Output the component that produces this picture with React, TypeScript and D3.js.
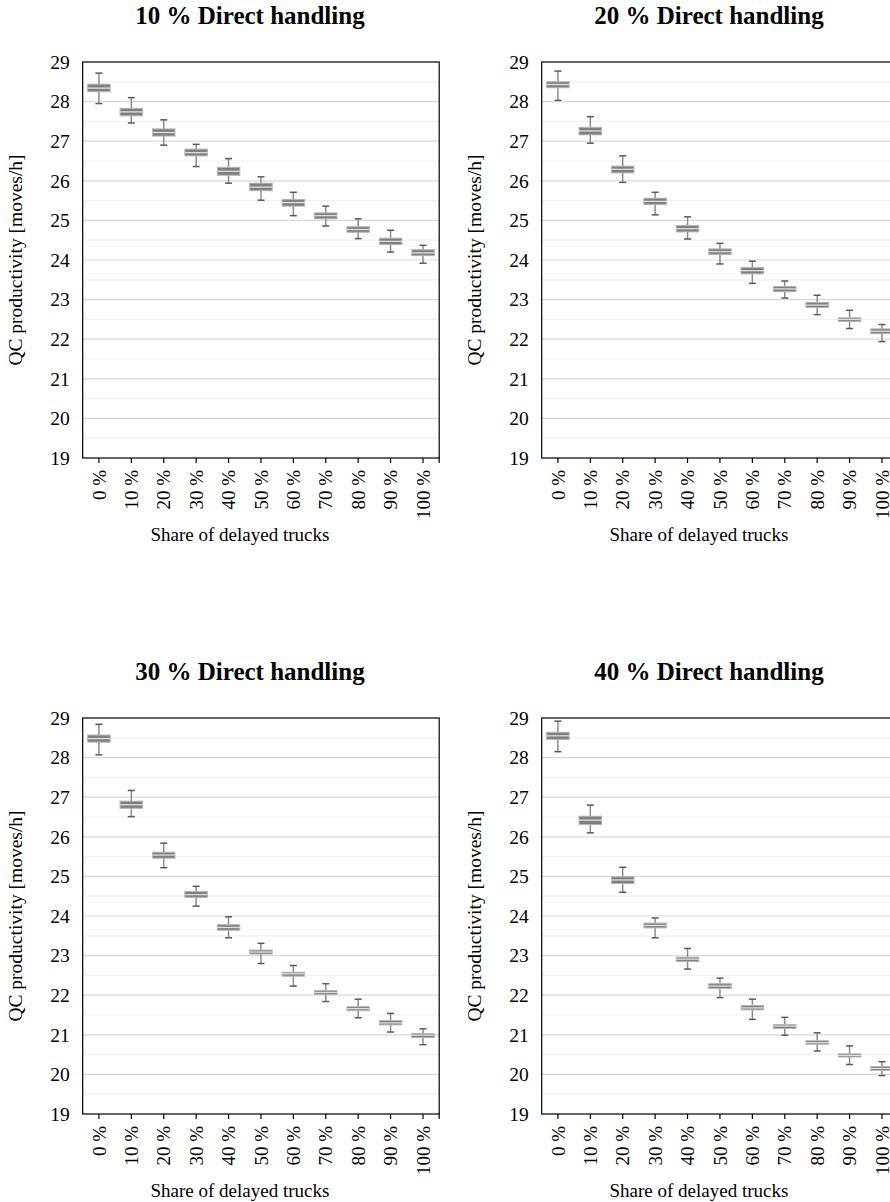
import React from "react";
import * as d3 from "d3";

// Categories (share of delayed trucks)
const categories = ["0 %", "10 %", "20 %", "30 %", "40 %", "50 %", "60 %", "70 %", "80 %", "90 %", "100 %"];
const yTicks = [19, 20, 21, 22, 23, 24, 25, 26, 27, 28, 29];
const panelTitles = ["10 % Direct handling", "20 % Direct handling", "30 % Direct handling", "40 % Direct handling"];

// Each row: [whiskerLow, q1, median, q3, whiskerHigh]
const dh10: number[][] = [
  [27.95, 28.25, 28.34, 28.44, 28.72],
  [27.46, 27.64, 27.74, 27.83, 28.1],
  [26.9, 27.13, 27.22, 27.31, 27.54],
  [26.36, 26.63, 26.71, 26.8, 26.92],
  [25.94, 26.14, 26.24, 26.34, 26.56],
  [25.51, 25.75, 25.84, 25.94, 26.1],
  [25.12, 25.36, 25.45, 25.53, 25.71],
  [24.86, 25.04, 25.12, 25.19, 25.36],
  [24.54, 24.7, 24.77, 24.84, 25.04],
  [24.2, 24.39, 24.47, 24.55, 24.75],
  [23.92, 24.11, 24.18, 24.26, 24.37],
];
const dh20: number[][] = [
  [28.03, 28.35, 28.43, 28.5, 28.77],
  [26.95, 27.16, 27.26, 27.35, 27.62],
  [25.96, 26.2, 26.29, 26.37, 26.63],
  [25.14, 25.4, 25.48, 25.56, 25.71],
  [24.53, 24.71, 24.79, 24.87, 25.09],
  [23.9, 24.14, 24.21, 24.28, 24.42],
  [23.41, 23.65, 23.73, 23.81, 23.97],
  [23.04, 23.2, 23.27, 23.33, 23.47],
  [22.62, 22.8, 22.86, 22.93, 23.11],
  [22.27, 22.45, 22.5, 22.54, 22.73],
  [21.94, 22.14, 22.2, 22.26, 22.37],
];
const dh30: number[][] = [
  [28.07, 28.39, 28.48, 28.57, 28.84],
  [26.51, 26.72, 26.81, 26.9, 27.17],
  [25.22, 25.46, 25.54, 25.61, 25.84],
  [24.25, 24.47, 24.54, 24.62, 24.75],
  [23.45, 23.64, 23.71, 23.78, 23.98],
  [22.8, 23.04, 23.09, 23.14, 23.31],
  [22.23, 22.48, 22.54, 22.58, 22.75],
  [21.84, 22.02, 22.07, 22.12, 22.29],
  [21.43, 21.61, 21.66, 21.71, 21.9],
  [21.07, 21.25, 21.3, 21.36, 21.54],
  [20.75, 20.93, 20.99, 21.03, 21.15],
];
const dh40: number[][] = [
  [28.15, 28.46, 28.55, 28.64, 28.92],
  [26.1, 26.31, 26.42, 26.52, 26.8],
  [24.6, 24.82, 24.91, 24.99, 25.23],
  [23.45, 23.7, 23.76, 23.82, 23.95],
  [22.66, 22.85, 22.91, 22.96, 23.18],
  [21.94, 22.17, 22.23, 22.29, 22.43],
  [21.39, 21.63, 21.68, 21.74, 21.9],
  [20.99, 21.16, 21.22, 21.26, 21.44],
  [20.59, 20.76, 20.8, 20.85, 21.05],
  [20.25, 20.44, 20.48, 20.52, 20.72],
  [19.97, 20.1, 20.15, 20.2, 20.32],
];
const panelData = [dh10, dh20, dh30, dh40];

const FONT = "Liberation Serif, Times New Roman, serif";
const PW = 356.5;
const PH = 396;
const panelOrigins = [
  [82.7, 62],
  [541.7, 62],
  [82.7, 718],
  [541.7, 718],
];

function Panel({ ox, oy, title, data }: { ox: number; oy: number; title: string; data: number[][] }) {
  const x = d3.scaleBand<string>().domain(categories).range([0, PW]).padding(0);
  const y = d3.scaleLinear().domain([19, 29]).range([PH, 0]);
  const minor = d3.range(19.5, 29, 1);
  const bw = 22.5;
  const cap = 7;
  return (
    <g transform={`translate(${ox},${oy})`}>
      <text x={PW / 2 - 11} y={-38} textAnchor="middle" fontFamily={FONT} fontWeight="bold" fontSize={25}>
        {title}
      </text>
      {minor.map((v) => (
        <line key={"m" + v} x1={0} x2={PW} y1={y(v)} y2={y(v)} stroke="#f0f0f0" strokeWidth={1.2} />
      ))}
      {yTicks.slice(1, -1).map((v) => (
        <line key={"g" + v} x1={0} x2={PW} y1={y(v)} y2={y(v)} stroke="#d9d9d9" strokeWidth={1.2} />
      ))}
      <rect x={0} y={0} width={PW} height={PH} fill="none" stroke="#000" strokeWidth={1.2} />
      {yTicks.map((v) => (
        <text key={"t" + v} x={-13} y={y(v)} dy="0.35em" textAnchor="end" fontFamily={FONT} fontSize={19.5}>
          {v}
        </text>
      ))}
      {categories.map((c) => {
        const cx = (x(c) as number) + x.bandwidth() / 2;
        return (
          <g key={c}>
            <line x1={cx} x2={cx} y1={PH} y2={PH + 5} stroke="#000" strokeWidth={1.2} />
            <text
              transform={`translate(${cx},${PH + 12}) rotate(-90)`}
              textAnchor="end"
              dy="0.35em"
              fontFamily={FONT}
              fontSize={19}
            >
              {c}
            </text>
          </g>
        );
      })}
      <line x1={PW} x2={PW} y1={PH} y2={PH + 5} stroke="#000" strokeWidth={1.2} />
      <text x={PW / 2 - 21} y={PH + 83} textAnchor="middle" fontFamily={FONT} fontSize={19}>
        Share of delayed trucks
      </text>
      <text
        transform={`translate(${-68},${PH / 2}) rotate(-90)`}
        textAnchor="middle"
        dy="0.35em"
        fontFamily={FONT}
        fontSize={19.5}
      >
        QC productivity [moves/h]
      </text>
      {data.map((d, i) => {
        const cx = (x(categories[i]) as number) + x.bandwidth() / 2;
        const [lo, q1, med, q3, hi] = d;
        return (
          <g key={"b" + i}>
            <line x1={cx} x2={cx} y1={y(hi)} y2={y(q3)} stroke="#8c8c8c" strokeWidth={1.5} />
            <line x1={cx} x2={cx} y1={y(q1)} y2={y(lo)} stroke="#8c8c8c" strokeWidth={1.5} />
            <line x1={cx - cap / 2} x2={cx + cap / 2} y1={y(hi)} y2={y(hi)} stroke="#595959" strokeWidth={1.5} />
            <line x1={cx - cap / 2} x2={cx + cap / 2} y1={y(lo)} y2={y(lo)} stroke="#595959" strokeWidth={1.5} />
            <rect
              x={cx - bw / 2}
              y={y(q3)}
              width={bw}
              height={y(q1) - y(q3)}
              fill="#7f7f7f"
              stroke="#b3b3b3"
              strokeWidth={1}
            />
            <line x1={cx - bw / 2} x2={cx + bw / 2} y1={y(med)} y2={y(med)} stroke="#dedede" strokeWidth={1.3} />
          </g>
        );
      })}
    </g>
  );
}

export default function App() {
  return (
    <svg
      width={890}
      height={1202}
      style={{ position: "absolute", left: 0, top: 0, background: "#fff" }}
    >
      <rect width={890} height={1202} fill="#fff" />
      {panelOrigins.map(([ox, oy], i) => (
        <Panel key={i} ox={ox} oy={oy} title={panelTitles[i]} data={panelData[i]} />
      ))}
    </svg>
  );
}
